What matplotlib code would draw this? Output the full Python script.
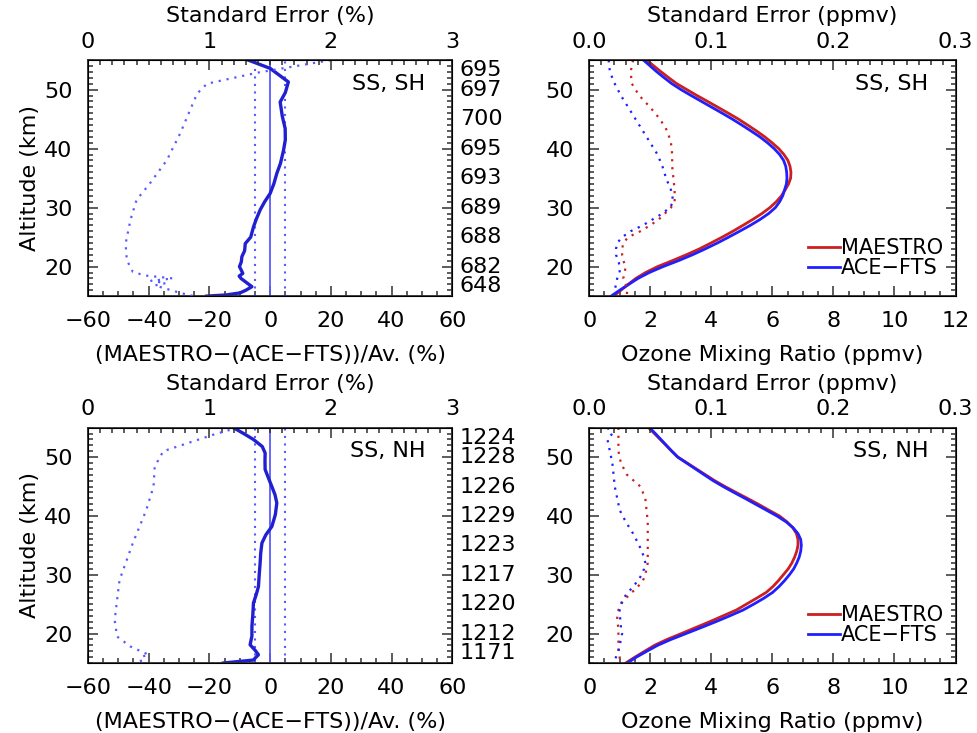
import matplotlib
matplotlib.use('Agg')
import matplotlib.pyplot as plt
from matplotlib.ticker import MultipleLocator
import numpy as np

plt.rcParams['font.family'] = ['DejaVu Sans']
plt.rcParams['font.size'] = 16

# altitude grids (km)
alt = np.arange(55, 14, -1)  # 55 ... 15
alt_se = [55, 53, 51, 49, 47, 45, 43, 41, 39, 37, 35, 33, 31, 30, 29, 28, 27, 26,
          25, 24, 23, 22, 21, 20, 19, 18, 17, 16, 15]

# ---- SS, SH : ozone profiles (ppmv)
sh_maestro = [1.89, 2.12, 2.36, 2.61, 2.87, 3.20, 3.53, 3.88, 4.22, 4.56, 4.89, 5.19, 5.48,
              5.75, 5.99, 6.21, 6.38, 6.51, 6.58, 6.61, 6.60, 6.53, 6.42, 6.30, 6.13, 5.92,
              5.66, 5.36, 5.04, 4.71, 4.36, 3.99, 3.61, 3.18, 2.72, 2.24, 1.85, 1.53, 1.28,
              1.04, 0.80]
sh_acefts = [1.78, 2.00, 2.22, 2.46, 2.71, 3.01, 3.34, 3.68, 4.02, 4.36, 4.69, 5.00, 5.30,
             5.59, 5.84, 6.06, 6.24, 6.37, 6.44, 6.47, 6.48, 6.46, 6.40, 6.34, 6.24, 6.10,
             5.88, 5.60, 5.28, 4.93, 4.57, 4.20, 3.80, 3.38, 2.92, 2.42, 1.97, 1.60, 1.30,
             1.00, 0.72]
# standard errors (ppmv)
sh_maestro_se = [0.036, 0.034, 0.035, 0.041, 0.050, 0.058, 0.064, 0.067, 0.068, 0.068, 0.069,
                 0.070, 0.070, 0.067, 0.062, 0.057, 0.050, 0.042, 0.032, 0.028, 0.027, 0.027,
                 0.028, 0.030, 0.029, 0.028, 0.030, 0.031, 0.031]
sh_acefts_se = [0.016, 0.017, 0.021, 0.026, 0.032, 0.038, 0.044, 0.050, 0.056, 0.060, 0.063,
                0.067, 0.069, 0.066, 0.060, 0.052, 0.044, 0.034, 0.027, 0.023, 0.022, 0.022,
                0.024, 0.025, 0.025, 0.023, 0.022, 0.021, 0.020]

# ---- SS, NH : ozone profiles (ppmv)
nh_maestro = [1.95, 2.14, 2.33, 2.52, 2.71, 2.91, 3.21, 3.51, 3.81, 4.11, 4.45, 4.81, 5.18,
              5.54, 5.88, 6.23, 6.48, 6.67, 6.79, 6.84, 6.84, 6.80, 6.73, 6.64, 6.52, 6.36,
              6.20, 6.02, 5.80, 5.48, 5.15, 4.82, 4.38, 3.94, 3.48, 3.02, 2.55, 2.14, 1.82,
              1.50, 1.20]
nh_acefts = [1.98, 2.17, 2.35, 2.53, 2.71, 2.90, 3.19, 3.48, 3.77, 4.06, 4.39, 4.74, 5.10,
             5.45, 5.80, 6.15, 6.45, 6.68, 6.84, 6.93, 6.95, 6.93, 6.88, 6.80, 6.70, 6.56,
             6.40, 6.22, 6.01, 5.72, 5.39, 5.04, 4.60, 4.14, 3.66, 3.17, 2.68, 2.24, 1.89,
             1.55, 1.25]
nh_alt_se = [55, 54, 53, 51, 49, 47, 45, 43, 41, 39, 37, 35, 33, 32, 31, 30, 29, 28, 27, 26,
             25, 24, 23, 22, 21, 20, 19, 18, 17, 16, 15]
nh_maestro_se = [0.024, 0.024, 0.024, 0.024, 0.026, 0.031, 0.042, 0.046, 0.047, 0.048, 0.048,
                 0.048, 0.048, 0.048, 0.047, 0.046, 0.044, 0.040, 0.035, 0.030, 0.026, 0.024,
                 0.023, 0.023, 0.024, 0.024, 0.024, 0.024, 0.024, 0.025, 0.025]
nh_acefts_se = [0.015, 0.019, 0.015, 0.017, 0.019, 0.020, 0.021, 0.023, 0.025, 0.030, 0.036,
                0.041, 0.045, 0.046, 0.045, 0.043, 0.040, 0.036, 0.032, 0.028, 0.026, 0.025,
                0.025, 0.026, 0.026, 0.027, 0.026, 0.025, 0.024, 0.022, 0.019]

# ---- relative differences (%)
sh_diff_alt = [55, 53.6, 51.3, 49.5, 47.9, 45.5, 43.4, 41.5, 39.7, 37.5, 35.8, 34, 32.4, 31,
               29.6, 28, 26.7, 25, 23.9, 22.7, 21.7, 20.8, 20.0, 19.5, 18.85, 18.4, 18.0,
               17.3, 16.6, 16.0, 15.55, 15.2, 15]
sh_diff = [-7.2, 0.0, 6.0, 5.0, 3.3, 4.0, 4.95, 5.0, 4.4, 3.4, 2.2, 1.2, 0.0, -1.8, -3.3,
           -4.6, -5.5, -6.4, -8.2, -8.4, -9.3, -9.5, -10.1, -9.6, -9.0, -10.2, -9.6, -7.8,
           -6.0, -8.0, -9.9, -14.5, -20.9]
sh_se_alt = [55, 52.85, 51.0, 49.35, 46.5, 42.6, 38.05, 34.1, 31.3, 27.9, 23.9, 21.1, 19.1,
             18.5, 18.0, 17.6, 17.2, 16.8, 16.4, 15.6, 15]
sh_se = [2.0, 1.39, 0.98, 0.90, 0.84, 0.76, 0.65, 0.51, 0.40, 0.35, 0.31, 0.32, 0.37, 0.47,
         0.70, 0.52, 0.64, 0.55, 0.62, 0.75, 0.87]
sh_counts = ['695', '697', '700', '695', '693', '689', '688', '682', '648']

nh_diff_alt = [55, 54, 53.0, 51.8, 50.7, 49.3, 47.9, 46.5, 45.0, 43.6, 42.2, 40.2, 38.2, 36.8,
               35.4, 33.7, 32.0, 30.0, 28.0, 26.6, 25.2, 23.2, 21.2, 19.6, 18.1, 17.2, 16.4,
               15.8, 15.5, 15]
nh_diff = [-12.1, -8.7, -5.5, -2.6, -1.65, -1.7, -1.65, -0.6, 0.56, 1.6, 2.2, 1.7, 0.56, -1.4,
           -2.7, -3.1, -3.3, -3.6, -3.85, -4.6, -5.5, -5.7, -6.0, -6.0, -6.6, -5.0, -3.85,
           -5.0, -5.5, -15.4]
nh_se_alt = [55, 53.8, 51.0, 48.4, 45.0, 41.0, 35.4, 29.1, 22.3, 19.5, 17.8, 16.4, 16.0, 15]
nh_se = [1.23, 1.03, 0.62, 0.55, 0.54, 0.48, 0.37, 0.26, 0.22, 0.24, 0.35, 0.50, 0.43, 0.44]
nh_counts = ['1224', '1228', '1226', '1229', '1223', '1217', '1220', '1212', '1171']

count_alts = [55, 50, 45, 40, 35, 30, 25, 20, 15]

red = '#cc1f1f'
blue = '#1f1fff'
dark_blue = '#2020d0'
light_blue = '#5a5aff'
axis_col = '#303030'
dots = (0, (1, 2.6))

fig = plt.figure(figsize=(9.77, 7.33), dpi=100)


def style_axis(ax):
    ax.set_ylim(15, 55)
    ax.yaxis.set_major_locator(MultipleLocator(10))
    ax.yaxis.set_minor_locator(MultipleLocator(1))
    ax.tick_params(which='both', direction='in', top=False, right=True,
                   colors=axis_col, labelcolor='black', width=1.1)
    ax.tick_params(axis='x', which='both', pad=11)
    ax.tick_params(axis='y', which='both', pad=11)
    ax.tick_params(which='major', length=7)
    ax.tick_params(which='minor', length=3.5)
    for s in ax.spines.values():
        s.set_color(axis_col)
        s.set_linewidth(1.3)


def style_top(axt):
    axt.tick_params(which='both', direction='in', colors=axis_col,
                    labelcolor='black', width=1.1, pad=6)
    axt.tick_params(which='major', length=7)
    axt.tick_params(which='minor', length=3.5)


def diff_panel(rect, d_alt, diff, s_alt, se, counts, tag):
    ax = fig.add_axes(rect)
    style_axis(ax)
    ax.set_xlim(-60, 60)
    ax.xaxis.set_major_locator(MultipleLocator(20))
    ax.xaxis.set_minor_locator(MultipleLocator(5))
    ax.set_xticks([-60, -40, -20, 0, 20, 40, 60])
    ax.set_xticklabels(['\u221260', '\u221240', '\u221220', '0', '20', '40', '60'])
    ax.axvline(0, color=light_blue, lw=1.3)
    ax.axvline(-5, color=light_blue, lw=1.5, ls=dots)
    ax.axvline(5, color=light_blue, lw=1.5, ls=dots)
    ax.plot(diff, d_alt, color=dark_blue, lw=2.4)
    ax.set_xlabel('(MAESTRO\u2212(ACE\u2212FTS))/Av. (%)', labelpad=10)
    ax.set_ylabel('Altitude (km)', labelpad=3)
    ax.text(0.925, 0.90, tag, transform=ax.transAxes, ha='right', va='center')

    axt = ax.twiny()
    axt.set_xlim(0, 3)
    axt.xaxis.set_major_locator(MultipleLocator(1))
    axt.xaxis.set_minor_locator(MultipleLocator(0.1))
    style_top(axt)
    axt.plot(se, s_alt, color=light_blue, lw=1.6, ls=dots)
    axt.set_xlabel('Standard Error (%)', labelpad=7)

    tr = ax.get_yaxis_transform()
    for a, c in zip(count_alts, counts):
        va = 'top' if a == 55 else ('bottom' if a == 15 else 'center')
        ax.text(1.02, a, c, transform=tr, ha='left', va=va)
    return ax


def profile_panel(rect, m, a, m_se, a_se, s_alt, tag):
    ax = fig.add_axes(rect)
    style_axis(ax)
    ax.set_xlim(0, 12)
    ax.xaxis.set_major_locator(MultipleLocator(2))
    ax.xaxis.set_minor_locator(MultipleLocator(0.5))
    ax.plot(m, alt, color=red, lw=2.0, label='MAESTRO')
    ax.plot(a, alt, color=blue, lw=2.0, label='ACE\u2212FTS')
    ax.set_xlabel('Ozone Mixing Ratio (ppmv)', labelpad=10)
    ax.text(0.925, 0.90, tag, transform=ax.transAxes, ha='right', va='center')
    ax.legend(loc='lower right', bbox_to_anchor=(0.965, 0.075), frameon=False,
              fontsize=15, handlelength=1.5, handletextpad=0.05, labelspacing=0.0,
              borderaxespad=0.0, borderpad=0.0)

    axt = ax.twiny()
    axt.set_xlim(0, 0.3)
    axt.xaxis.set_major_locator(MultipleLocator(0.1))
    axt.xaxis.set_minor_locator(MultipleLocator(0.01))
    axt.set_xticks([0.0, 0.1, 0.2, 0.3])
    axt.set_xticklabels(['0.0', '0.1', '0.2', '0.3'])
    style_top(axt)
    axt.plot(m_se, s_alt, color=red, lw=1.6, ls=dots)
    axt.plot(a_se, s_alt, color=blue, lw=1.6, ls=dots)
    axt.set_xlabel('Standard Error (ppmv)', labelpad=7)
    return ax


left_x, left_w = 0.090, 0.373
right_x, right_w = 0.603, 0.375
top_y, top_h = 0.596, 0.322
bot_y, bot_h = 0.0955, 0.321

diff_panel([left_x, top_y, left_w, top_h], sh_diff_alt, sh_diff, sh_se_alt, sh_se,
           sh_counts, 'SS, SH')
diff_panel([left_x, bot_y, left_w, bot_h], nh_diff_alt, nh_diff, nh_se_alt, nh_se,
           nh_counts, 'SS, NH')
profile_panel([right_x, top_y, right_w, top_h], sh_maestro, sh_acefts,
              sh_maestro_se, sh_acefts_se, alt_se, 'SS, SH')
profile_panel([right_x, bot_y, right_w, bot_h], nh_maestro, nh_acefts,
              nh_maestro_se, nh_acefts_se, nh_alt_se, 'SS, NH')

fig.savefig('out.png', dpi=100)
